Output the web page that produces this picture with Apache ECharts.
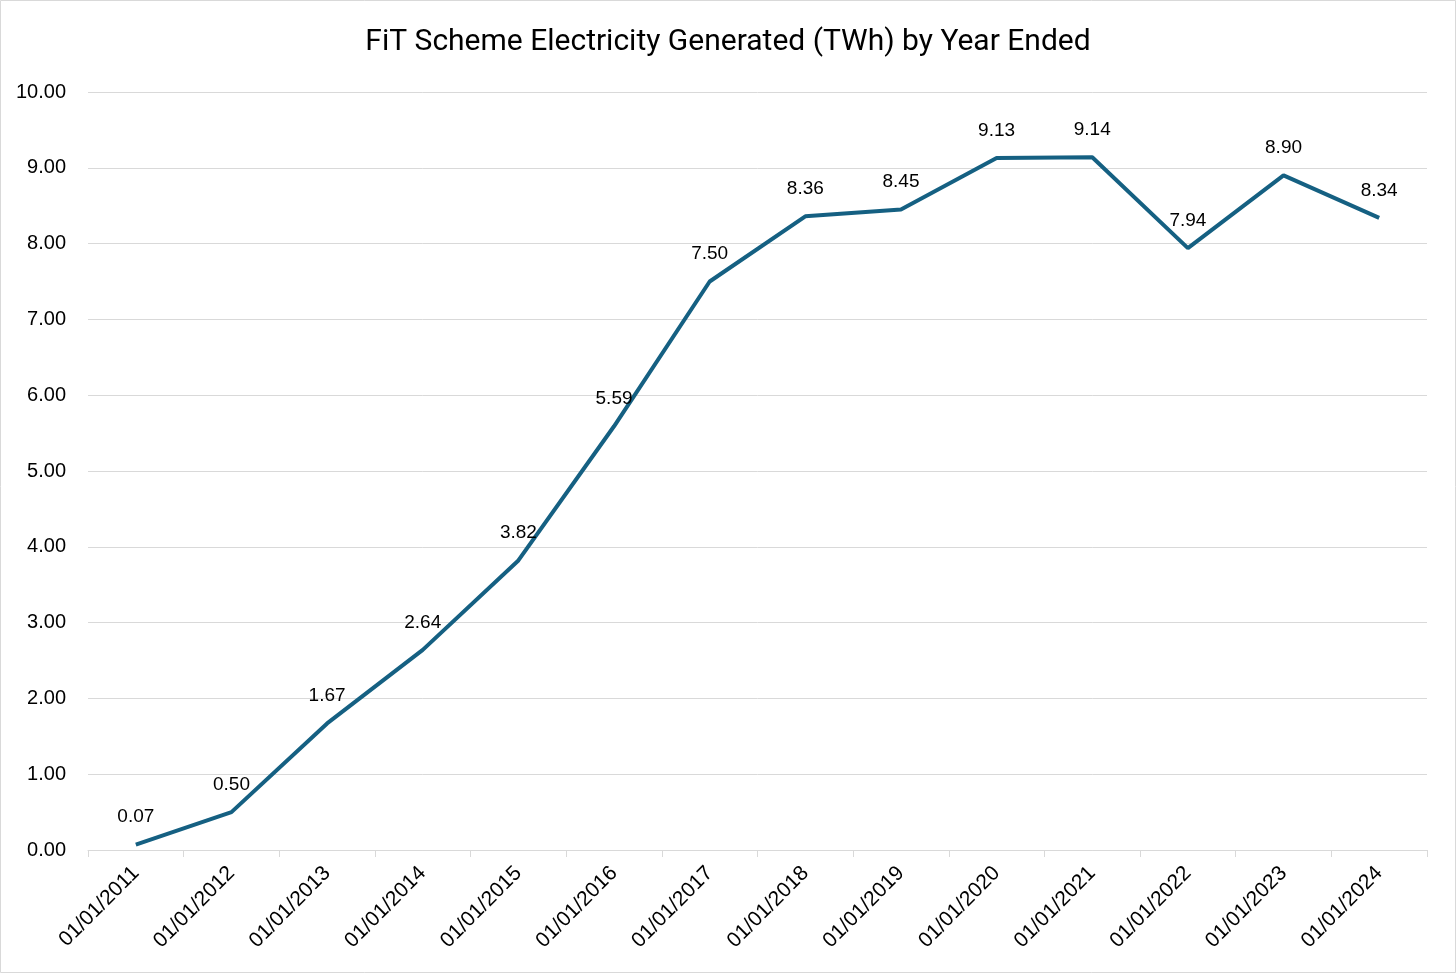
<!DOCTYPE html>
<html><head><meta charset="utf-8">
<script src="https://cdn.jsdelivr.net/npm/echarts@6/dist/echarts.min.js"></script>
<style>html,body{margin:0;padding:0;background:#fff;}#c{width:1456px;height:973px;}</style>
</head><body><div id="c"></div>
<script>
const categories = ['01/01/2011','01/01/2012','01/01/2013','01/01/2014','01/01/2015','01/01/2016','01/01/2017','01/01/2018','01/01/2019','01/01/2020','01/01/2021','01/01/2022','01/01/2023','01/01/2024'];
const values = [0.07, 0.50, 1.67, 2.64, 3.82, 5.59, 7.50, 8.36, 8.45, 9.13, 9.14, 7.94, 8.90, 8.34];
const titleText = 'FiT Scheme Electricity Generated (TWh) by Year Ended';

const chart = echarts.init(document.getElementById('c'));
chart.setOption({
  animation: false,
  backgroundColor: '#fff',
  title: { text: titleText, left: 'center', top: 22,
    textStyle: { fontFamily: 'Roboto', fontWeight: 'normal', fontSize: 30, color: '#000' } },
  graphic: [{ type: 'rect', shape: { x: 0.5, y: 0.5, width: 1455, height: 972 },
    style: { fill: 'none', stroke: '#d9d9d9', lineWidth: 1 }, silent: true }],
  grid: { left: 88, right: 29, top: 92, bottom: 123, containLabel: false },
  xAxis: {
    type: 'category', data: categories, boundaryGap: true,
    axisLine: { lineStyle: { color: '#d9d9d9', width: 1 } },
    axisTick: { show: true, length: 7, lineStyle: { color: '#d9d9d9' } },
    axisLabel: { rotate: 45, interval: 0, margin: 20, fontFamily: 'Liberation Sans', fontSize: 21, color: '#000' }
  },
  yAxis: {
    type: 'value', min: 0, max: 10, interval: 1,
    axisLine: { show: false }, axisTick: { show: false },
    splitLine: { lineStyle: { color: '#d9d9d9', width: 1 } },
    axisLabel: { margin: 22, fontFamily: 'Liberation Sans', fontSize: 20, color: '#000',
      formatter: v => v.toFixed(2) }
  },
  series: [{
    type: 'line', data: values, symbol: 'circle', symbolSize: 0, showSymbol: true,
    lineStyle: { color: '#156082', width: 4 },
    itemStyle: { color: '#156082' },
    label: { show: true, position: 'top', distance: 18, fontFamily: 'Liberation Sans', fontSize: 19, color: '#000',
      formatter: p => p.value.toFixed(2) }
  }]
});
</script></body></html>
